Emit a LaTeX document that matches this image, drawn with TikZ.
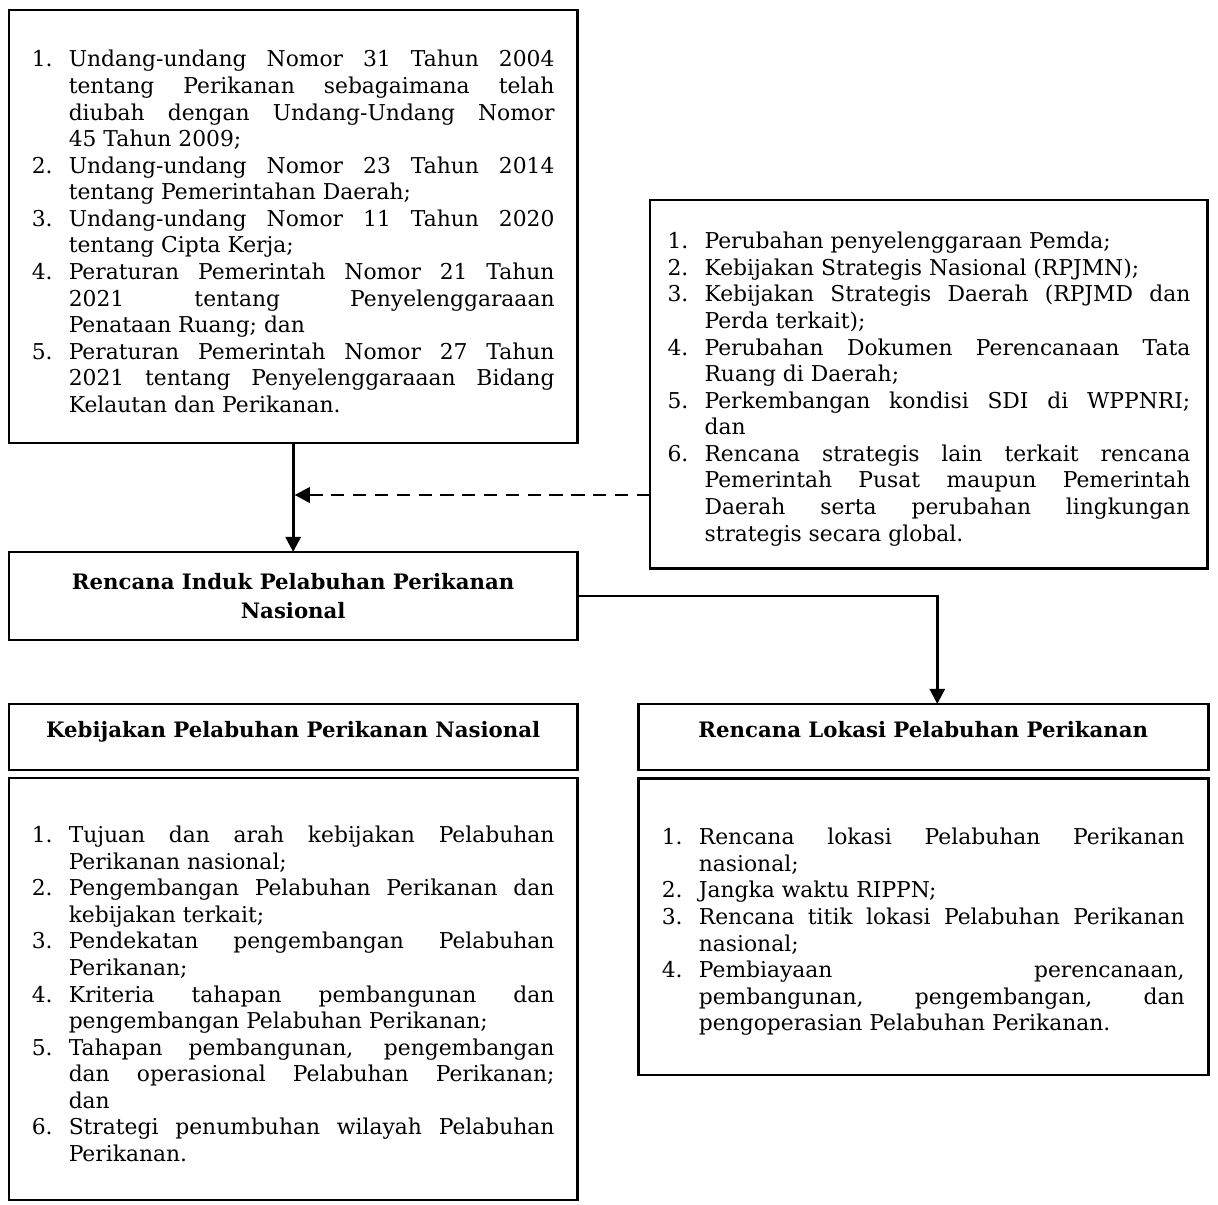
\documentclass[tikz,border=0pt]{standalone}
\usepackage{fontspec}
\setmainfont{DejaVu Serif}
\usepackage{enumitem}
\usepackage{tikz}
\usetikzlibrary{ arrows.meta, calc, positioning }
\setlist[enumerate]{leftmargin=19.5pt,labelsep=0pt,labelwidth=19.5pt,align=left,
  itemsep=0pt,parsep=0pt,topsep=0pt,partopsep=0pt}
\tolerance=10000 \hyphenpenalty=10000 \hbadness=10000
\tikzset{
>={Triangle[length=8pt,width=8pt]}, % filled arrow heads
kotak/.style={draw, line width=1.5pt, inner sep=0pt, outer sep=0pt}, % plain box
daftar/.style={kotak, text width=275.5pt, inner xsep=12pt, align=justify,
  font=\fontsize{11.5}{14}\selectfont}, % box with a numbered list
judul/.style={kotak, minimum width=299.5pt, minimum height=34.8pt, align=center,
  font=\fontsize{11.2}{15}\selectfont\bfseries}, % box with a heading
panah/.style={line width=1.5pt}, % connectors
}

\begin{document}
\begin{tikzpicture}[x=0.527pt, y=-0.527pt]
  \useasboundingbox (0,0) rectangle (1218,1204);

  \node[daftar, anchor=north west, minimum height=228.2pt] (uu) at (9,10) {%
    \begin{enumerate}
    \item Undang-undang Nomor 31 Tahun 2004 \linebreak tentang Perikanan sebagaimana telah \linebreak diubah dengan Undang-Undang Nomor \linebreak 45 Tahun 2009;
    \item Undang-undang Nomor 23 Tahun 2014 \linebreak tentang Pemerintahan Daerah;
    \item Undang-undang Nomor 11 Tahun 2020 \linebreak tentang Cipta Kerja;
    \item Peraturan Pemerintah Nomor 21 Tahun \linebreak 2021 tentang Penyelenggaraaan \linebreak Penataan Ruang; dan
    \item Peraturan Pemerintah Nomor 27 Tahun \linebreak 2021 tentang Penyelenggaraaan Bidang \linebreak Kelautan dan Perikanan.
    \end{enumerate}};
  \node[daftar, anchor=north west, inner xsep=9.25pt, minimum height=194pt] (faktor) at (650,200) {%
    \begin{enumerate}
    \item Perubahan penyelenggaraan Pemda;
    \item Kebijakan Strategis Nasional (RPJMN);
    \item Kebijakan Strategis Daerah (RPJMD dan \linebreak Perda terkait);
    \item Perubahan Dokumen Perencanaan Tata \linebreak Ruang di Daerah;
    \item Perkembangan kondisi SDI di WPPNRI; \linebreak dan
    \item Rencana strategis lain terkait rencana \linebreak Pemerintah Pusat maupun Pemerintah \linebreak Daerah serta perubahan lingkungan \linebreak strategis secara global.
    \end{enumerate}};

  \node[judul, below=57.4pt of uu, minimum height=46.4pt] (ripn) {Rencana Induk Pelabuhan Perikanan\\Nasional};
  \node[judul, below=33.7pt of ripn, text depth=8pt] (kebijakan) {Kebijakan Pelabuhan Perikanan Nasional};
  \node[daftar, below=4.2pt of kebijakan, minimum height=222.4pt] (isikebijakan) {%
    \begin{enumerate}
    \item Tujuan dan arah kebijakan Pelabuhan \linebreak Perikanan nasional;
    \item Pengembangan Pelabuhan Perikanan dan \linebreak kebijakan terkait;
    \item Pendekatan pengembangan Pelabuhan \linebreak Perikanan;
    \item Kriteria tahapan pembangunan dan \linebreak pengembangan Pelabuhan Perikanan;
    \item Tahapan pembangunan, pengembangan \linebreak dan operasional Pelabuhan Perikanan; \linebreak dan
    \item Strategi penumbuhan wilayah Pelabuhan \linebreak Perikanan.
    \end{enumerate}};

  \node[judul, right=32.1pt of kebijakan, minimum width=300.4pt, text depth=8pt] (lokasi) {Rencana Lokasi Pelabuhan Perikanan};
  \node[daftar, below=4.7pt of lokasi, inner xsep=12.45pt, minimum height=156pt] (isilokasi) {%
    \begin{enumerate}
    \item Rencana lokasi Pelabuhan Perikanan \linebreak nasional;
    \item Jangka waktu RIPPN;
    \item Rencana titik lokasi Pelabuhan Perikanan \linebreak nasional;
    \item Pembiayaan perencanaan, \linebreak pembangunan, pengembangan, dan \linebreak pengoperasian Pelabuhan Perikanan.
    \end{enumerate}};

  % connectors
  \coordinate (tengah) at ($(uu.south)!0.477!(ripn.north)$);
  \draw[panah, ->] (uu) -- (ripn);
  \draw[panah, ->, dash pattern=on 7pt off 4.5pt, shorten >=0.75pt] (faktor.west |- tengah) -- (tengah);
  \draw[panah, ->] (ripn) -| ([xshift=7.4pt]lokasi.north);
\end{tikzpicture}
\end{document}
